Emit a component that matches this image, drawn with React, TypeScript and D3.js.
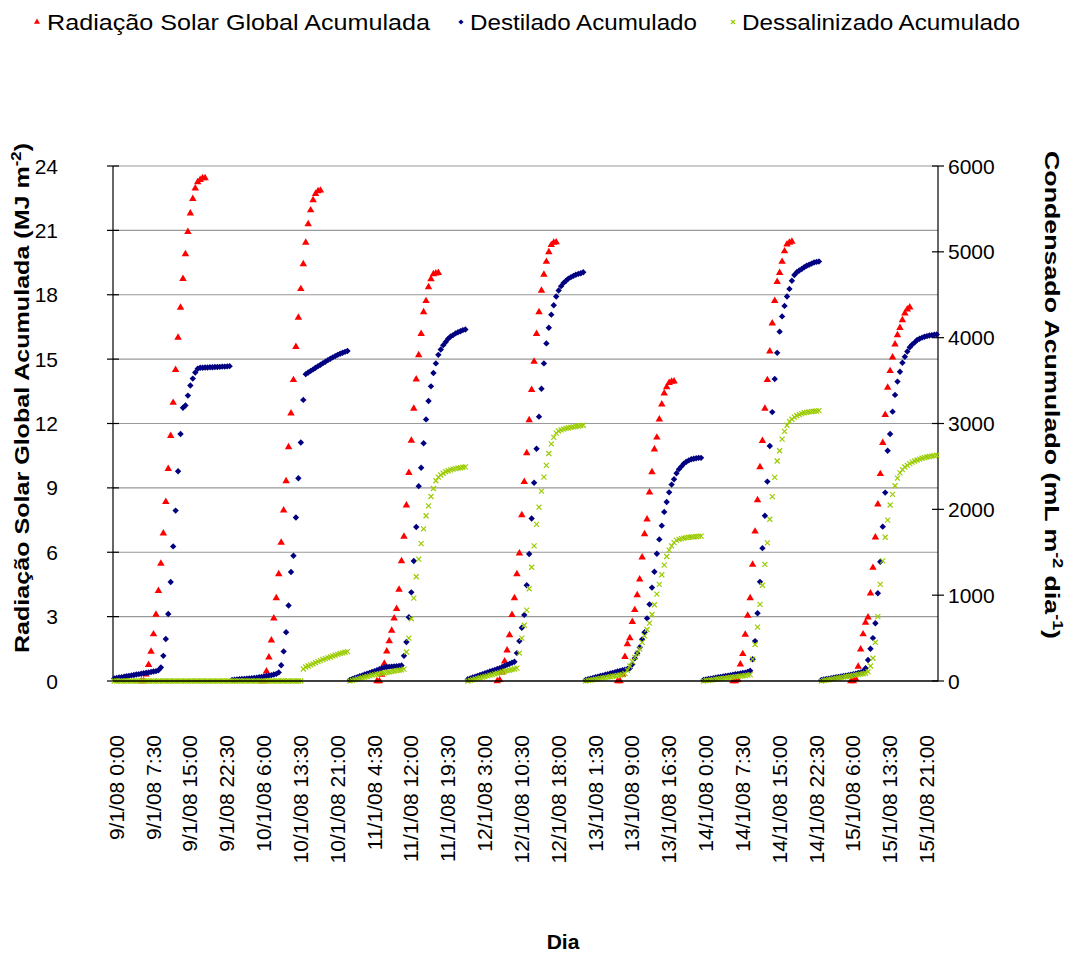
import React from 'react';
import * as d3 from 'd3';

// ---------- DATA ----------
// x axis: half-hour readings, 48 per day, 9/1/08 0:00 .. 15/1/08 23:30
const dayLabels = ['9/1', '10/1', '11/1', '12/1', '13/1', '14/1', '15/1'];
const readingsPerDay = 48;
const tickLabels = [
  '9/1/08 0:00', '9/1/08 7:30', '9/1/08 15:00', '9/1/08 22:30',
  '10/1/08 6:00', '10/1/08 13:30', '10/1/08 21:00',
  '11/1/08 4:30', '11/1/08 12:00', '11/1/08 19:30',
  '12/1/08 3:00', '12/1/08 10:30', '12/1/08 18:00',
  '13/1/08 1:30', '13/1/08 9:00', '13/1/08 16:30',
  '14/1/08 0:00', '14/1/08 7:30', '14/1/08 15:00', '14/1/08 22:30',
  '15/1/08 6:00', '15/1/08 13:30', '15/1/08 21:00',
];
const tickStep = 15; // one label every 15 readings (7:30 h)
const leftTicks = [0, 3, 6, 9, 12, 15, 18, 21, 24];
const rightTicks = [0, 1000, 2000, 3000, 4000, 5000, 6000];

// Radiação Solar Global Acumulada (MJ m-2): first half-hour index of the day + readings
const radStart = [11, 12, 11, 12, 13, 12, 12];
const rad09 = [0, 0, 0.31, 0.75, 1.37, 2.18, 3.1, 4.2, 5.47, 6.88, 8.35, 9.89, 11.43, 12.97, 14.5, 16.0, 17.4, 18.74, 19.9, 20.93, 21.79, 22.47, 22.96, 23.25, 23.36, 23.44, 23.44];
const rad10 = [0, 0, 0.45, 1.1, 1.9, 2.92, 3.86, 4.98, 6.45, 7.95, 9.32, 10.9, 12.47, 14.03, 15.57, 16.94, 18.27, 19.43, 20.43, 21.29, 21.94, 22.41, 22.7, 22.83, 22.86];
const rad11 = [0, 0, 0.3, 0.81, 1.38, 1.86, 2.35, 2.92, 3.36, 4.26, 5.59, 6.73, 8.19, 9.7, 11.2, 12.7, 14.06, 15.19, 16.18, 17.19, 17.71, 18.36, 18.73, 18.96, 19.0, 19.02];
const rad12 = [0, 0.05, 0.4, 0.92, 1.43, 2.14, 3.08, 3.86, 4.98, 5.95, 7.73, 9.28, 10.62, 12.16, 13.57, 14.89, 16.18, 17.19, 18.19, 18.94, 19.54, 19.99, 20.32, 20.43, 20.45];
const rad13 = [0, 0, 0.3, 1.13, 1.72, 2.0, 2.76, 3.31, 4.0, 4.74, 5.76, 6.85, 7.53, 8.79, 9.74, 10.8, 11.35, 12.19, 12.89, 13.41, 13.7, 13.9, 13.95, 13.97];
const rad14 = [0, 0, 0.05, 0.78, 1.26, 2.16, 3.05, 3.86, 5.43, 6.97, 8.43, 9.97, 11.19, 12.7, 14.03, 15.36, 16.67, 17.72, 18.6, 19.02, 19.54, 20.03, 20.35, 20.43, 20.48];
const rad15 = [0, 0, 0.1, 0.67, 1.48, 2.18, 2.72, 2.97, 4.09, 5.28, 6.7, 8.23, 9.65, 11.1, 12.4, 13.67, 14.45, 15.08, 15.69, 16.12, 16.46, 16.82, 17.13, 17.32, 17.41];

// Destilado Acumulado (mL m-2 dia-1), 48 readings per day
const dest09 = [30, 35, 40, 45, 50, 55, 60, 65, 70, 75, 80, 85, 90, 95, 100, 105, 110, 115, 125, 158, 293, 490, 780, 1153, 1568, 1985, 2443, 2878, 3183, 3210, 3325, 3443, 3523, 3595, 3638, 3650, 3650, 3652, 3652, 3655, 3655, 3658, 3658, 3660, 3663, 3663, 3665, 3668];
const dest10 = [13, 15, 18, 20, 23, 25, 28, 30, 33, 35, 38, 43, 48, 53, 58, 63, 68, 75, 83, 100, 183, 345, 568, 880, 1270, 1460, 1905, 2363, 2778, 3275, 3575, 3595, 3613, 3630, 3650, 3668, 3685, 3703, 3720, 3738, 3755, 3770, 3785, 3800, 3813, 3825, 3835, 3845];
const dest11 = [13, 25, 35, 45, 55, 65, 75, 85, 95, 105, 115, 125, 138, 150, 158, 163, 165, 168, 170, 173, 175, 180, 293, 455, 743, 1033, 1398, 1795, 2270, 2485, 2770, 3048, 3263, 3433, 3588, 3700, 3800, 3863, 3913, 3950, 3988, 4013, 4030, 4050, 4063, 4075, 4088, 4095];
const dest12 = [20, 30, 40, 50, 60, 70, 80, 90, 100, 110, 120, 130, 140, 150, 163, 175, 188, 200, 213, 225, 325, 465, 620, 770, 1115, 1480, 1893, 2310, 2705, 3080, 3405, 3700, 3933, 4115, 4268, 4378, 4480, 4550, 4600, 4638, 4663, 4688, 4705, 4720, 4733, 4743, 4750, 4763];
const dest13 = [13, 20, 28, 35, 43, 50, 58, 65, 73, 80, 88, 95, 103, 110, 118, 125, 133, 140, 150, 195, 265, 323, 393, 485, 568, 730, 893, 1088, 1273, 1483, 1650, 1810, 1970, 2085, 2198, 2288, 2350, 2420, 2468, 2500, 2533, 2555, 2570, 2583, 2590, 2595, 2600, 2600];
const dest14 = [13, 18, 23, 28, 33, 38, 43, 48, 53, 58, 63, 68, 73, 78, 83, 88, 93, 98, 105, 120, 253, 465, 790, 1155, 1548, 1925, 2323, 2738, 3133, 3518, 3823, 4070, 4248, 4370, 4480, 4568, 4663, 4730, 4763, 4783, 4800, 4820, 4838, 4850, 4863, 4875, 4883, 4888];
const dest15 = [13, 18, 23, 28, 33, 38, 43, 48, 53, 58, 63, 68, 73, 78, 85, 93, 100, 113, 148, 245, 375, 500, 673, 1023, 1390, 1798, 2195, 2683, 2878, 3138, 3333, 3488, 3603, 3708, 3778, 3838, 3888, 3920, 3945, 3973, 3988, 4000, 4010, 4018, 4025, 4030, 4035, 4038];

// Dessalinizado Acumulado (mL m-2 dia-1), 48 readings per day
const dess09 = [0, 0, 0, 0, 0, 0, 0, 0, 0, 0, 0, 0, 0, 0, 0, 0, 0, 0, 0, 0, 0, 0, 0, 0, 0, 0, 0, 0, 0, 0, 0, 0, 0, 0, 0, 0, 0, 0, 0, 0, 0, 0, 0, 0, 0, 0, 0, 0];
const dess10 = [0, 0, 0, 0, 0, 0, 0, 0, 0, 0, 0, 0, 0, 0, 0, 0, 0, 0, 0, 0, 0, 0, 0, 0, 0, 0, 0, 0, 0, 140, 163, 175, 188, 200, 213, 225, 238, 250, 260, 270, 280, 290, 300, 310, 320, 328, 335, 343];
const dess11 = [0, 8, 15, 23, 30, 38, 45, 53, 60, 68, 75, 80, 85, 90, 95, 100, 105, 110, 115, 120, 125, 130, 138, 338, 500, 725, 965, 1215, 1420, 1600, 1773, 1925, 2040, 2150, 2243, 2333, 2375, 2400, 2420, 2438, 2450, 2460, 2468, 2475, 2480, 2485, 2490, 2495];
const dess12 = [0, 8, 15, 23, 30, 38, 45, 53, 60, 68, 75, 83, 90, 98, 105, 113, 120, 125, 133, 140, 150, 325, 500, 650, 825, 1075, 1325, 1575, 1825, 2025, 2213, 2375, 2513, 2650, 2763, 2838, 2888, 2913, 2925, 2935, 2943, 2950, 2955, 2960, 2965, 2970, 2975, 2980];
const dess13 = [0, 5, 10, 15, 20, 25, 30, 35, 40, 45, 50, 55, 60, 65, 70, 75, 88, 125, 175, 225, 275, 325, 375, 450, 525, 600, 675, 775, 888, 1013, 1125, 1238, 1350, 1450, 1525, 1575, 1613, 1638, 1650, 1658, 1665, 1670, 1675, 1678, 1680, 1683, 1685, 1688];
const dess14 = [0, 4, 8, 11, 15, 19, 23, 26, 30, 34, 38, 41, 45, 49, 53, 56, 60, 64, 68, 75, 255, 425, 628, 893, 1115, 1358, 1610, 1885, 2148, 2373, 2563, 2683, 2818, 2908, 2980, 3025, 3050, 3075, 3090, 3105, 3115, 3125, 3130, 3135, 3140, 3143, 3145, 3150];
const dess15 = [0, 5, 10, 15, 20, 25, 30, 35, 40, 45, 50, 55, 60, 65, 70, 75, 80, 85, 90, 108, 175, 265, 450, 750, 1125, 1400, 1675, 1875, 2050, 2175, 2275, 2363, 2425, 2463, 2493, 2513, 2533, 2550, 2563, 2575, 2585, 2595, 2603, 2610, 2615, 2620, 2625, 2630];

const radDays = [rad09, rad10, rad11, rad12, rad13, rad14, rad15];
const destDays = [dest09, dest10, dest11, dest12, dest13, dest14, dest15];
const dessDays = [dess09, dess10, dess11, dess12, dess13, dess14, dess15];

// ---------- CHART ----------
const W = 1066;
const H = 953;
const plot = { left: 113, right: 938, top: 166, bottom: 681 };
const FONT = 'Arial, "Liberation Sans", Helvetica, sans-serif';

const nTotal = dayLabels.length * readingsPerDay;
const x = d3.scaleLinear().domain([-0.5, nTotal - 0.5]).range([plot.left, plot.right]);
const yL = d3.scaleLinear().domain([0, 24]).range([plot.bottom, plot.top]);
const yR = d3.scaleLinear().domain([0, 6000]).range([plot.bottom, plot.top]);

type P = { i: number; v: number };
const radPts: P[] = [];
const destPts: P[] = [];
const dessPts: P[] = [];
radDays.forEach((arr, d) => arr.forEach((v, k) => radPts.push({ i: d * readingsPerDay + radStart[d] + k, v })));
destDays.forEach((arr, d) => arr.forEach((v, k) => destPts.push({ i: d * readingsPerDay + k, v })));
dessDays.forEach((arr, d) => arr.forEach((v, k) => dessPts.push({ i: d * readingsPerDay + k, v })));

const triPath = d3.symbol(d3.symbolTriangle, 24)() as string;
const diaPath = 'M0,-3.2L3.2,0L0,3.2L-3.2,0Z';
const xPath = 'M-2.5,-2.5L2.5,2.5M-2.5,2.5L2.5,-2.5';

const RED = '#FF0000';
const BLUE = '#000080';
const GREEN = '#99CC00';

export default function App() {
  return (
    <svg width={W} height={H} style={{ position: 'absolute', left: 0, top: 0, background: '#fff' }} fontFamily={FONT}>
      <rect x={0} y={0} width={W} height={H} fill="#fff" />
      {/* legend */}
      <g>
        <path d={d3.symbol(d3.symbolTriangle, 16)() as string} transform="translate(37,22)" fill={RED} />
        <text x={47} y={30} fontSize={22} textLength={383} lengthAdjust="spacingAndGlyphs">Radiação Solar Global Acumulada</text>
        <path d="M0,-2.6L2.6,0L0,2.6L-2.6,0Z" transform="translate(461,22)" fill={BLUE} />
        <text x={470} y={30} fontSize={22} textLength={227} lengthAdjust="spacingAndGlyphs">Destilado Acumulado</text>
        <path d="M-2,-2L2,2M-2,2L2,-2" transform="translate(733,22)" stroke={GREEN} strokeWidth={1.2} fill="none" />
        <text x={742} y={30} fontSize={22} textLength={278} lengthAdjust="spacingAndGlyphs">Dessalinizado Acumulado</text>
      </g>

      {/* gridlines */}
      {leftTicks.filter((t) => t > 0).map((t) => (
        <line key={'g' + t} x1={plot.left} x2={plot.right} y1={yL(t)} y2={yL(t)} stroke="#999" strokeWidth={1.2} />
      ))}

      {/* axes */}
      <line x1={plot.left} x2={plot.left} y1={plot.top} y2={plot.bottom} stroke="#000" strokeWidth={1.2} />
      <line x1={plot.right} x2={plot.right} y1={plot.top} y2={plot.bottom} stroke="#000" strokeWidth={1.2} />
      {leftTicks.map((t) => (
        <g key={'lt' + t}>
          <line x1={plot.left - 6} x2={plot.left + 6} y1={yL(t)} y2={yL(t)} stroke="#000" strokeWidth={1.2} />
          <text x={58} y={yL(t)} dy="0.36em" textAnchor="end" fontSize={21}>{t}</text>
        </g>
      ))}
      {rightTicks.map((t) => (
        <g key={'rt' + t}>
          <line x1={plot.right - 6} x2={plot.right + 6} y1={yR(t)} y2={yR(t)} stroke="#000" strokeWidth={1.2} />
          <text x={948} y={yR(t)} dy="0.36em" textAnchor="start" fontSize={21}>{t}</text>
        </g>
      ))}

      {/* series */}
      <g>
        {radPts.map((p, k) => (
          <path key={'r' + k} d={triPath} transform={`translate(${x(p.i)},${yL(p.v)})`} fill={RED} />
        ))}
      </g>
      <g>
        {destPts.map((p, k) => (
          <path key={'d' + k} d={diaPath} transform={`translate(${x(p.i)},${yR(p.v)})`} fill={BLUE} />
        ))}
      </g>
      <g>
        {dessPts.map((p, k) => (
          <path key={'s' + k} d={xPath} transform={`translate(${x(p.i)},${yR(p.v)})`} stroke={GREEN} strokeWidth={1.2} fill="none" />
        ))}
      </g>

      <line x1={plot.left} x2={plot.right} y1={plot.bottom} y2={plot.bottom} stroke="#000" strokeWidth={1.4} />

      {/* x tick labels */}
      {tickLabels.map((lab, k) => {
        const xi = x(k * tickStep);
        return (
          <text key={'xl' + k} transform={`translate(${xi + 2},735) rotate(-90)`} dy="0.36em" textAnchor="end" fontSize={21}>{lab}</text>
        );
      })}

      {/* axis titles */}
      <text x={563} y={949} textAnchor="middle" fontSize={21} fontWeight="bold">Dia</text>
      <text transform="translate(29,398) rotate(-90)" textAnchor="middle" fontSize={21} fontWeight="bold" textLength={510} lengthAdjust="spacingAndGlyphs">
        Radiação Solar Global Acumulada (MJ m<tspan baseline-shift="super" fontSize={14}>-2</tspan>)
      </text>
      <text transform="translate(1045,395) rotate(90)" textAnchor="middle" fontSize={21} fontWeight="bold" textLength={488} lengthAdjust="spacingAndGlyphs">
        Condensado Acumulado (mL m<tspan baseline-shift="super" fontSize={14}>-2</tspan> dia<tspan baseline-shift="super" fontSize={14}>-1</tspan>)
      </text>
    </svg>
  );
}
